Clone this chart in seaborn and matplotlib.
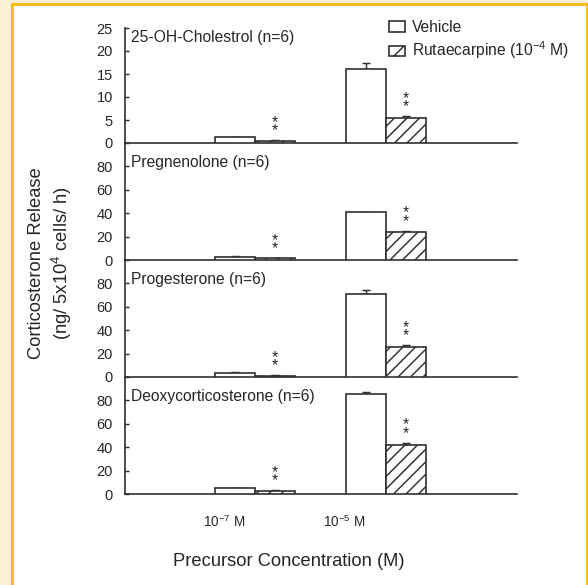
import numpy as np
import pandas as pd
import matplotlib
matplotlib.use("Agg")
import matplotlib.pyplot as plt
import seaborn as sns
from matplotlib.patches import Patch, Rectangle
from matplotlib.transforms import ScaledTranslation, blended_transform_factory

# ---------------- data ----------------
concentrations = ["10$^{-7}$ M", "10$^{-5}$ M"]
treatments = ["Vehicle", "Rutaecarpine (10$^{-4}$ M)"]
precursors = ["25-OH-Cholestrol (n=6)", "Pregnenolone (n=6)",
              "Progesterone (n=6)", "Deoxycorticosterone (n=6)"]
vehicle_means = [[1.2, 16.0], [2.9, 40.6], [3.7, 71.1], [5.1, 85.1]]
vehicle_sem = [[0.1, 1.4], [0.2, 0.6], [0.2, 2.9], [0.4, 2.3]]
rutae_means = [[0.5, 5.4], [1.4, 24.0], [1.1, 26.0], [2.9, 41.7]]
rutae_sem = [[0.1, 0.4], [0.2, 1.0], [0.2, 1.2], [0.3, 2.0]]
significance = ["**", "**"]
y_limits = [25, 100, 100, 100]
y_ticks = [[0, 5, 10, 15, 20, 25], [0, 20, 40, 60, 80], [0, 20, 40, 60, 80], [0, 20, 40, 60, 80]]
x_label = "Precursor Concentration (M)"
y_label = "Corticosterone Release\n(ng/ 5x10$^{4}$ cells/ h)"

# ---------------- style ----------------
sns.set_theme(style="white")
plt.rcParams["font.family"] = ["Liberation Sans", "DejaVu Sans"]
plt.rcParams["mathtext.fontset"] = "custom"
plt.rcParams["mathtext.rm"] = "Liberation Sans"
plt.rcParams["mathtext.it"] = "Liberation Sans:italic"
plt.rcParams["mathtext.bf"] = "Liberation Sans:bold"
plt.rcParams["hatch.linewidth"] = 0.7
plt.rcParams["hatch.color"] = "#202020"

DPI = 150
W, H = 588, 585
ink = "#262626"
line_c = "#303030"

def fx(px):
    return px / W

def fy(py):
    return 1 - py / H

fig = plt.figure(figsize=(W / DPI, H / DPI), dpi=DPI)
fig.patch.set_facecolor("#FCEFD3")
fig.add_artist(Rectangle((fx(11.5), fy(620)), fx(586.8) - fx(11.5), fy(3.5) - fy(620),
                         transform=fig.transFigure, facecolor="white",
                         edgecolor="#F5BD1E", linewidth=1.45, zorder=-5))

tops = [28, 143, 260, 377]
bottoms = [143, 260, 377, 494]
left_px, right_px = 125, 517

axes = []
for i in range(4):
    ax = fig.add_axes([fx(left_px), fy(bottoms[i]), fx(right_px) - fx(left_px),
                       fy(tops[i]) - fy(bottoms[i])])
    ax.set_facecolor("none")
    df = pd.DataFrame({
        "conc": concentrations * 2,
        "treatment": [treatments[0]] * 2 + [treatments[1]] * 2,
        "value": vehicle_means[i] + rutae_means[i],
    })
    sns.barplot(data=df, x="conc", y="value", hue="treatment", order=concentrations,
                hue_order=treatments, palette=["white", "white"], saturation=1,
                edgecolor=line_c, linewidth=0.8, width=0.61, errorbar=None,
                legend=False, ax=ax, zorder=3)
    bar_containers = list(ax.containers)
    errs = [vehicle_sem[i], rutae_sem[i]]
    for k, cont in enumerate(bar_containers):
        bars = [b for b in cont if b is not None]
        xs = [b.get_x() + b.get_width() / 2 for b in bars]
        hs = [b.get_height() for b in bars]
        ax.errorbar(xs, hs, yerr=[np.zeros(len(hs)), errs[k]], fmt="none",
                    ecolor=line_c, elinewidth=0.7, capsize=1.7, capthick=0.7, zorder=2)
        if k == 1:
            for b in bars:
                b.set_hatch("////")
            for x, h, e, s in zip(xs, hs, errs[k], significance):
                ax.annotate(s[0] + "\n" + s[1], xy=(x, h + e), xytext=(0, 1.0),
                            textcoords="offset points", ha="center", va="bottom",
                            fontsize=7.5, linespacing=0.45, color=ink)
    ax.set_xlim(-0.99, 2.0)
    ax.set_ylim(0, y_limits[i])
    ax.set_yticks(y_ticks[i])
    ax.set_ylabel("")
    ax.set_xlabel("")
    for sp in ["top", "right"]:
        ax.spines[sp].set_visible(False)
    for sp in ["left", "bottom"]:
        ax.spines[sp].set_color(line_c)
        ax.spines[sp].set_linewidth(0.8)
    ax.tick_params(axis="y", direction="in", length=2.0, width=0.7, color=line_c,
                   pad=5.8, labelsize=7, labelcolor=ink, left=True)
    ax.tick_params(axis="x", length=0, pad=9.5, labelsize=6.5, labelcolor=ink)
    title_y = 23 if i == 0 else 83
    ax.text(0.015, title_y, precursors[i], transform=blended_transform_factory(ax.transAxes, ax.transData),
            ha="left", va="center", fontsize=7.5, color=ink)
    if i < 3:
        ax.set_xticklabels([])
    axes.append(ax)

# bottom tick labels shifted like in the original
ax4 = axes[-1]
shifts_px = [-31, -42]
for lab, s in zip(ax4.get_xticklabels(), shifts_px):
    lab.set_transform(lab.get_transform() + ScaledTranslation(s / DPI, 0, fig.dpi_scale_trans))

ax4.set_xlabel(x_label, fontsize=8.8, color=ink)
ax4.xaxis.label.set_va("center")
ax4.xaxis.set_label_coords((289 - left_px) / (right_px - left_px), (494 - 562) / 117)

fig.text(fx(51), fy(263), y_label, rotation=90, ha="center", va="center",
         multialignment="center", fontsize=8.8, linespacing=1.3, color=ink)

handles = [Patch(facecolor="white", edgecolor=line_c, linewidth=0.8),
           Patch(facecolor="white", edgecolor=line_c, linewidth=0.8, hatch="//")]
fig.legend(handles, treatments, loc="upper left", bbox_to_anchor=(fx(389), fy(20)),
           frameon=False, borderpad=0, borderaxespad=0, handlelength=1.0,
           handleheight=0.65, handletextpad=0.5, labelspacing=0.3, fontsize=7.5,
           labelcolor=ink)

fig.savefig("out.png", dpi=DPI)
